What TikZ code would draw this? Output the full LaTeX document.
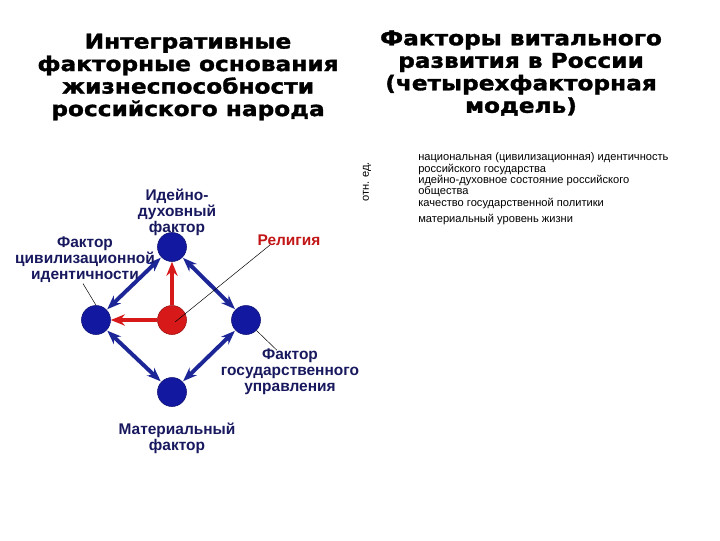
\documentclass[tikz,border=0pt]{standalone}
\usepackage{fontspec}
\setmainfont{Liberation Sans}
\newfontfamily\headfont[FakeStretch=1.14,FakeBold=1.6]{DejaVu Sans Bold}
\newfontfamily\notefont{Liberation Sans}
\usetikzlibrary{arrows.meta,calc}
\definecolor{factblue}{RGB}{18,24,160}
\definecolor{linkblue}{RGB}{28,38,150}
\definecolor{relred}{RGB}{215,25,25}
\definecolor{lblnavy}{RGB}{24,24,95}
\tikzset{
  factor/.style={circle, minimum size=29*0.025cm, inner sep=0pt, fill=factblue, draw=factblue!70!black, line width=0.4pt},
  lbl/.style={font=\bfseries\fontsize{11}{11.4}\selectfont, text=lblnavy, align=center, inner sep=1pt},
  head/.style={font=\headfont\fontsize{14.5}{16}\selectfont, align=center, inner sep=0pt},
  note/.style={font=\notefont\fontsize{7.9}{7.1}\selectfont, align=left, anchor=west, inner sep=0pt},
  link/.style={linkblue, line width=2.8pt, {Stealth[length=10pt,width=7.5pt]}-{Stealth[length=10pt,width=7.5pt]}, shorten <=0.5pt, shorten >=0.5pt},
  push/.style={relred, line width=2.8pt, -{Stealth[length=10pt,width=8pt]}},
  leader/.style={black, line width=0.35pt}
}
\begin{document}
\begin{tikzpicture}[x=0.025cm, y=-0.025cm]
  \useasboundingbox (0,0) rectangle (720,540);
  % titles
  \node[head] (lefthead) at (188,77) {Интегративные\\факторные основания\\жизнеспособности\\российского народа};
  \node[head] (righthead) at (521,73) {Факторы витального\\развития в России\\(четырехфакторная\\модель)};
  % factor circles
  \node[factor] (ideal) at (172,247) {};
  \node[factor] (civ) at (96,320) {};
  \node[factor, fill=relred, draw=relred!70!black] (rel) at (172,320) {};
  \node[factor] (gov) at (246,320) {};
  \node[factor] (mat) at (172,392) {};
  % links
  \draw[link] (ideal) -- (civ);
  \draw[link] (ideal) -- (gov);
  \draw[link] (civ) -- (mat);
  \draw[link] (gov) -- (mat);
  \draw[push] (rel) -- (ideal);
  \draw[push] (rel) -- (civ);
  % labels
  \node[lbl] (ideallbl) at (177,212) {Идейно-\\духовный\\фактор};
  \node[lbl] (civlbl) at (85,260) {Фактор\\цивилизационной\\идентичности};
  \node[lbl, text=relred!90!black] (rellbl) at (289,240) {Религия};
  \node[lbl] (govlbl) at (290,372) {Фактор\\государственного\\управления};
  \node[lbl] (matlbl) at (177,438) {Материальный\\фактор};
  \draw[leader] ($(civlbl.south)+(-2,-1)$) -- (civ.north);
  \draw[leader] ($(rellbl.south west)+(14,-2)$) -- ($(rel.center)+(3,2)$);
  \draw[leader] (gov.-45) -- ($(govlbl.north)+(-13,3)$);
  % legend
  \node[note, rotate=90, anchor=center] (unit) at (367,182) {отн. ед.};
  \node[note] (item1) at (418,164) {национальная (цивилизационная) идентичность\\российского государства};
  \node[note] (item2) at (418,186) {идейно-духовное состояние российского\\общества};
  \node[note] (item3) at (418,204) {качество государственной политики};
  \node[note] (item4) at (418,220) {материальный уровень жизни};
\end{tikzpicture}
\end{document}
